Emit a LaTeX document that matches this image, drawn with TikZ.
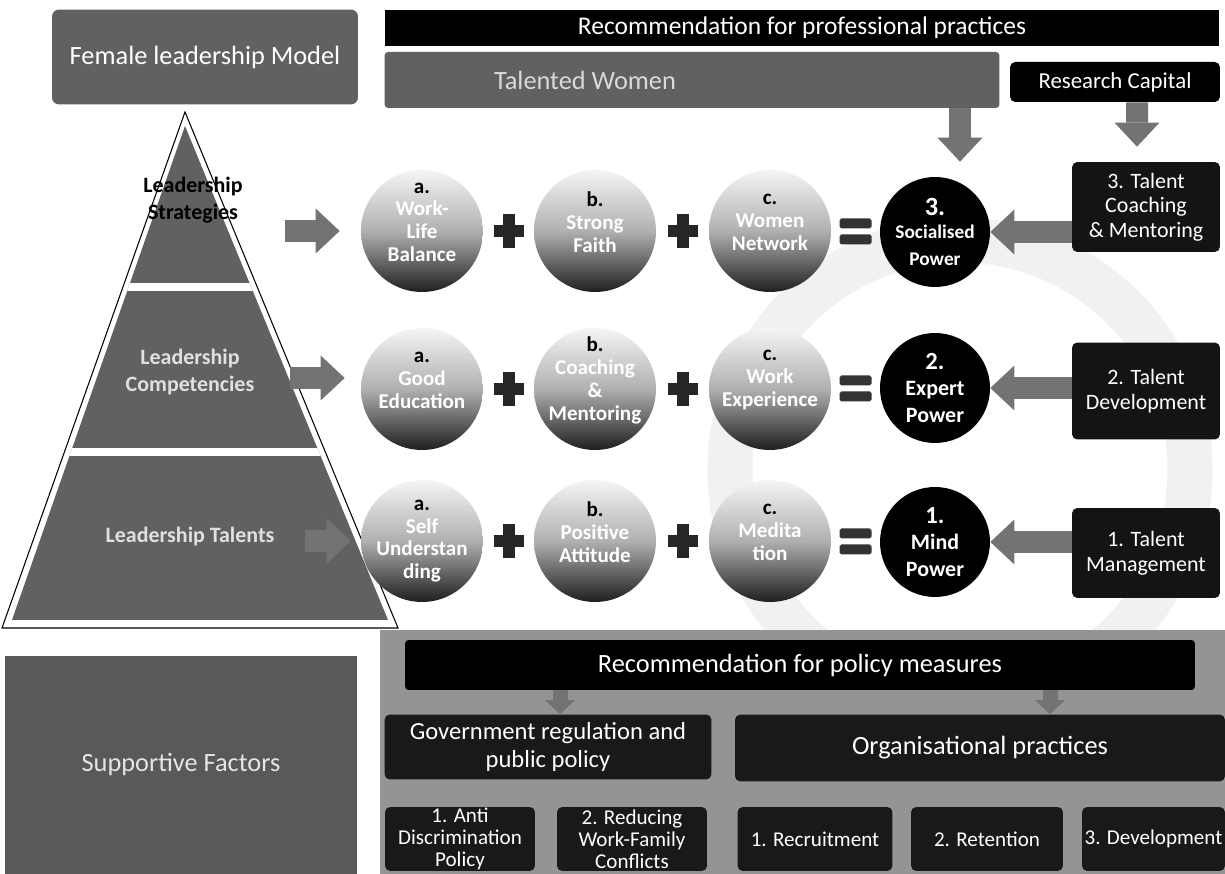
\documentclass[tikz,border=0pt]{standalone}
\usepackage{fontspec}
\setmainfont{Carlito}
\usetikzlibrary{arrows.meta,calc}

\begin{document}
\begin{tikzpicture}[x=0.02cm,y=-0.02cm,
  every node/.style={inner sep=0pt, align=center},
  blackbar/.style={fill=black, text=white, font=\fontsize{14.5}{17}\selectfont},
  policybox/.style={fill=black!90, text=white, rounded corners=3pt, font=\fontsize{12}{12.5}\selectfont},
  talentbox/.style={fill=black!92, text=white, rounded corners=3pt, minimum width=2.96cm, font=\fontsize{12.5}{14}\selectfont},
  ball/.style={circle, minimum size=2.44cm, top color=gray!8, bottom color=black!88, middle color=gray!62},
  balltext/.style={align=center, text=white, yshift=5pt, font=\bfseries\fontsize{12}{13}\selectfont},
  power/.style={circle, minimum size=2.2cm, fill=black, text=white, font=\bfseries\fontsize{11}{13}\selectfont},
  pyrtext/.style={font=\bfseries\fontsize{12.5}{15}\selectfont},
  fatarrow/.style={draw=black!55, line width=0.44cm, -{Triangle[length=0.48cm, width=0.9cm, line width=0pt]}},
  smallarrow/.style={draw=black!55, line width=0.3cm, -{Triangle[length=0.28cm, width=0.6cm, line width=0pt]}}]

\useasboundingbox (0,0) rectangle (1225,874);

% faint ring in the back
\draw[gray!11, line width=0.9cm] (960,470) circle[radius=230];

% headings
\node[fill=black!62, text=white, rounded corners=4pt, minimum width=6.12cm, minimum height=1.9cm,
      font=\fontsize{15}{17}\selectfont] (model) at (205,57) {Female leadership Model};
\node[blackbar, minimum width=16.7cm, minimum height=0.72cm] (profbar) at (802,28) {Recommendation for professional practices};
\node[fill=black!62, rounded corners=2pt, minimum width=12.3cm, minimum height=1.12cm,
      label={[text=white!85!black, xshift=-2.14cm, font=\fontsize{15}{17}\selectfont]center:Talented Women}] (talented) at (692,80) {};
\node[fill=black, text=white, rounded corners=3pt, minimum width=4.2cm, minimum height=0.8cm,
      font=\fontsize{13}{15}\selectfont] (research) at (1115,82) {Research Capital};

% pyramid
\draw[black, line width=0.6pt, fill=white] (185,112) -- (2,628) -- (398,628) -- cycle;
\begin{scope}
  \clip (185,126) -- (12,620) -- (388,620) -- cycle;
  \fill[black!62] (0,100) rectangle (400,630);
  \draw[white, line width=0.15cm] (0,287) -- (400,287);
  \draw[white, line width=0.15cm] (0,452) -- (400,452);
\end{scope}
\node[pyrtext, text=black] (strat) at (193,200) {Leadership\\Strategies};
\node[pyrtext, text=white!88!black] (compet) at (190,372) {Leadership\\Competencies};
\node[pyrtext, text=white!88!black] (talents) at (190,537) {Leadership Talents};
\coordinate (stratR) at (285,231);
\coordinate (competR) at (290,378);
\coordinate (talentsR) at (305,541);

% row 3: strategies
\node[ball, label={[balltext]center:{\textcolor{black}{a.}\\Work-\\Life\\Balance}}] (wlb) at (422,231) {};
\node[ball, label={[balltext]center:{\textcolor{black}{b.}\\Strong\\Faith}}] (faith) at (595,231) {};
\node[ball, label={[balltext]center:{\textcolor{black}{c.}\\Women\\Network}}] (network) at (770,231) {};
\node[power] (soc) at (935,232) {{\fontsize{15}{16}\selectfont 3.}\\Socialised\\[2pt]Power};

% row 2: competencies
\node[ball, label={[balltext]center:{\textcolor{black}{a.}\\Good\\Education}}] (educ) at (422,389) {};
\node[ball, label={[balltext]center:{\textcolor{black}{b.}\\Coaching\\\&\\Mentoring}}] (coachm) at (595,389) {};
\node[ball, label={[balltext]center:{\textcolor{black}{c.}\\Work\\Experience}}] (exper) at (770,389) {};
\node[power, font=\bfseries\fontsize{12.5}{15}\selectfont] (expert) at (935,388) {{\fontsize{14}{16}\selectfont 2.}\\Expert\\Power};

% row 1: talents
\node[ball, label={[balltext, yshift=-5pt]center:{\textcolor{black}{a.}\\Self\\Understan\\ding}}] (self) at (422,541) {};
\node[ball, label={[balltext]center:{\textcolor{black}{b.}\\Positive\\Attitude}}] (attit) at (595,541) {};
\node[ball, label={[balltext]center:{\textcolor{black}{c.}\\Medita\\tion}}] (medit) at (770,541) {};
\node[power, font=\bfseries\fontsize{12.5}{15}\selectfont] (mind) at (935,542) {{\fontsize{14}{16}\selectfont 1.}\\Mind\\Power};

% plus and equals signs
\foreach \l/\r in {wlb/faith, faith/network, educ/coachm, coachm/exper, self/attit, attit/medit} {
  \coordinate (p) at ($(\l.east)!0.5!(\r.west)$);
  \fill[black!85] ([xshift=-0.12cm,yshift=-0.34cm]p) rectangle ([xshift=0.12cm,yshift=0.34cm]p);
  \fill[black!85] ([xshift=-0.3cm,yshift=-0.12cm]p) rectangle ([xshift=0.3cm,yshift=0.12cm]p);
}
\foreach \l/\r in {network/soc, exper/expert, medit/mind} {
  \coordinate (q) at ($(\l.east)!0.5!(\r.west)$);
  \fill[black!80, rounded corners=1pt] ([xshift=-0.32cm,yshift=0.06cm]q) rectangle ([xshift=0.32cm,yshift=0.26cm]q);
  \fill[black!80, rounded corners=1pt] ([xshift=-0.32cm,yshift=-0.06cm]q) rectangle ([xshift=0.32cm,yshift=-0.26cm]q);
}

% talent boxes on the right
\node[talentbox, minimum height=1.8cm] (coach) at (1146,207) {3. Talent\\Coaching\\\& Mentoring};
\node[talentbox, minimum height=1.94cm] (develop) at (1146,391) {2. Talent\\Development};
\node[talentbox, minimum height=1.8cm] (manage) at (1146,553) {1. Talent\\Management};

% arrows
\draw[fatarrow, shorten >=0.42cm] (stratR) -- (stratR -| wlb.west);
\draw[fatarrow, shorten >=0.32cm] (competR) -- (competR -| educ.west);
\draw[fatarrow, shorten >=0.2cm] (talentsR) -- (talentsR -| self.west);
\draw[fatarrow] (coach.west |- soc) -- (soc.east);
\draw[fatarrow] (develop.west |- expert) -- (expert.east);
\draw[fatarrow] (manage.west |- mind) -- (mind.east);
\coordinate (twdrop) at (960,108);
\draw[fatarrow, shorten >=0.3cm] (twdrop) -- (twdrop |- soc.north);
\draw[fatarrow, shorten >=0.3cm] ([xshift=0.44cm]research.south) -- ([xshift=-0.18cm]coach.north);

% supportive factors
\node[fill=black!65, text=white!90!black, minimum width=7.06cm, minimum height=4.38cm,
      font=\fontsize{15}{17}\selectfont] (support) at (181,765) {Supportive Factors};

% policy measures
\fill[black!42] (380,630) rectangle (1225,874);
\node[blackbar, rounded corners=2pt, minimum width=15.8cm, minimum height=1cm,
      font=\fontsize{15}{17}\selectfont] (policy) at (800,665) {Recommendation for policy measures};
\node[policybox, minimum width=6.54cm, minimum height=1.3cm, font=\fontsize{14}{16}\selectfont] (gov) at (548,747) {Government regulation and\\public policy};
\node[policybox, minimum width=9.8cm, minimum height=1.34cm, font=\fontsize{15}{17}\selectfont] (org) at (980,748) {Organisational practices};
\coordinate (govdrop) at (560,690);
\coordinate (orgdrop) at (1050,690);
\draw[smallarrow] (govdrop) -- (govdrop |- gov.north);
\draw[smallarrow] (orgdrop) -- (orgdrop |- org.north);

\node[policybox, minimum width=3cm, minimum height=1.28cm] (anti) at (460,839) {1. Anti\\Discrimination\\Policy};
\node[policybox, minimum width=3cm, minimum height=1.28cm] (reduce) at (632,839) {2. Reducing\\Work-Family\\Conflicts};
\node[policybox, minimum width=3.1cm, minimum height=1.28cm] (recruit) at (815,839) {1. Recruitment};
\node[policybox, minimum width=3.04cm, minimum height=1.28cm] (retain) at (987,839) {2. Retention};
\node[policybox, minimum width=2.86cm, minimum height=1.28cm] (grow) at (1153.5,839) {3. Development};

\end{tikzpicture}
\end{document}
